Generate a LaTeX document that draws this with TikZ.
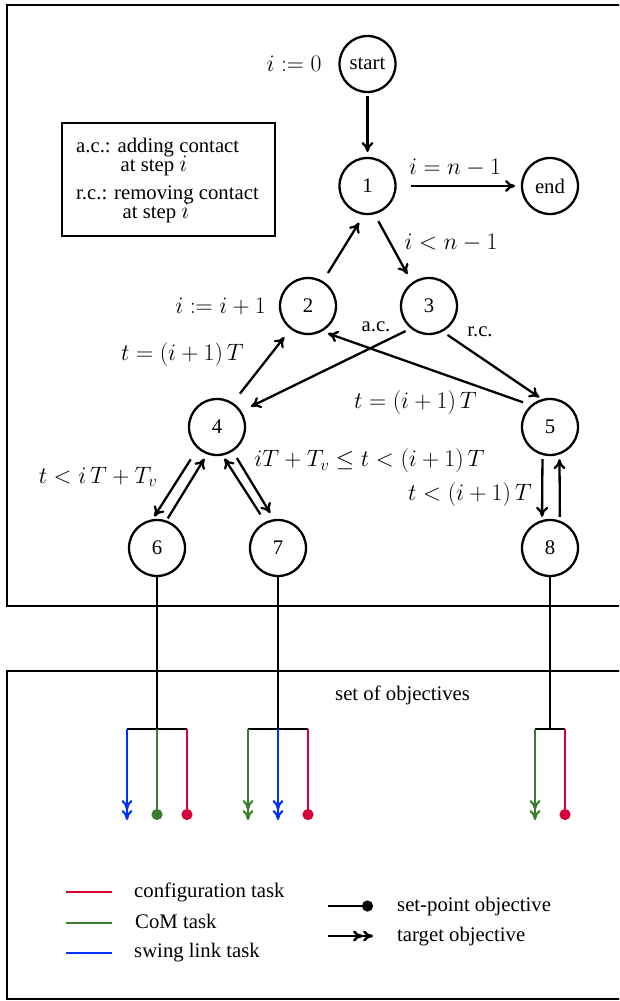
\RequirePackage{fix-cm}
\documentclass[tikz,border=0pt]{standalone}
\usepackage{fontspec}
\setmainfont{Liberation Serif}
\DeclareMathSizes{20.74}{23.7}{16.6}{11.85}
\usetikzlibrary{arrows.meta,calc}
\definecolor{cred}{RGB}{213,0,58}
\definecolor{cgreen}{RGB}{58,125,45}
\definecolor{cblue}{RGB}{0,50,255}
\begin{document}
\begin{tikzpicture}[x=1pt,y=-1pt,
  font=\fontsize{20.74}{25}\selectfont,
  state/.style={circle,draw,line width=2.3pt,minimum size=56pt,inner sep=0pt,outer sep=1pt},
  edge/.style={line width=2.3pt,-{Computer Modern Rightarrow[length=10pt,width=12pt]}},
  lbl/.style={inner sep=0pt},
  txt/.style={inner sep=0pt,anchor=base west},
  frame/.style={line width=2.6pt},
  stem/.style={line width=2.5pt},
  leg/.style={line width=2.2pt},
  target/.style={leg,-{Computer Modern Rightarrow[length=10pt,width=11pt]Computer Modern Rightarrow[length=10pt,width=11pt]}},
  setpoint/.style={leg,-{Circle[length=11pt]}}]
\useasboundingbox (0,0) rectangle (619,1001);
\clip (0,0) rectangle (619,1001);
% frames
\draw[frame] (7,5) rectangle (660,606);
\draw[frame] (7,671) rectangle (660,999);
% legend box
\node[draw,line width=2.3pt,minimum width=213pt,minimum height=113pt,inner sep=0pt] (legbox) at (168.5,179.5) {};
\node[txt] (lac) at (76,152) {\begin{tabular}[t]{@{}l@{}}a.c.: adding contact\\[-6pt]\hspace{44.5pt}at step $i$\end{tabular}};
\node[txt] (lrc) at (76,199) {\begin{tabular}[t]{@{}l@{}}r.c.: removing contact\\[-6pt]\hspace{46.5pt}at step $i$\end{tabular}};
% states
\node[state] (start) at (367.5,64) {start};
\node[state] (n1) at (367.5,186) {1};
\node[state] (end) at (550,186) {end};
\node[state] (n2) at (308,306) {2};
\node[state] (n3) at (429,306) {3};
\node[state] (n4) at (217,427) {4};
\node[state] (n5) at (550,427) {5};
\node[state] (n6) at (157,548) {6};
\node[state] (n7) at (278,548) {7};
\node[state] (n8) at (550,548) {8};
% edges
\draw[edge,shorten <=3pt,shorten >=5pt] (start) -- (n1);
\draw[edge,shorten <=14pt,shorten >=6pt] (n1) -- (end);
\draw[edge,shorten <=9.6pt,shorten >=9.3pt] (n2.59) -- (n1.-97.5);
\draw[edge,shorten <=8pt,shorten >=9.6pt] (n1.-76) -- (n3.126.6);
\draw[edge,shorten <=5.8pt,shorten >=10.7pt] (n3.-129) -- (n4.33.7);
\draw[edge,shorten <=5.9pt,shorten >=3.3pt] (n3.-62.7) -- (n5.106);
\draw[edge,shorten <=8.5pt,shorten >=6.4pt] (n5.131.8) -- (n2.-61.3);
\draw[edge,shorten <=11.5pt,shorten >=10.2pt] (n4.57) -- (n2.-127.7);
\draw[edge,shorten <=12.8pt,shorten >=3.4pt] (n4.-132) -- (n6.99);
\draw[edge,shorten <=2.6pt,shorten >=5.2pt] (n6.71.6) -- (n4.-110.6);
\draw[edge,shorten <=9pt,shorten >=3.6pt] (n7.116.6) -- (n4.-79.4);
\draw[edge,shorten <=7.9pt,shorten >=7.3pt] (n4.-57.2) -- (n7.98);
\draw[edge,shorten <=4.2pt,shorten >=3.3pt] (n5.-105.7) -- (n8.106);
\draw[edge,shorten <=3.9pt,shorten >=4.8pt] (n8.70.5) -- (n5.-71);
% edge labels
\node[lbl] (l0) at (294,64) {$i:=0$};
\node[lbl] (lend) at (455,168) {$i=n-1$};
\node[lbl] (lless) at (451,243) {$i<n-1$};
\node[lbl] (linc) at (220.5,306) {$i:=i+1$};
\node[lbl] (lac3) at (376,327) {a.c.};
\node[lbl] (lrc3) at (480,332) {r.c.};
\node[lbl] (lt1) at (182.5,355) {$t=(i+1)\,T$};
\node[lbl] (lt2) at (415.5,403) {$t=(i+1)\,T$};
\node[lbl] (lt3) at (369.5,461) {$iT+T_v\leq t<(i+1)\,T$};
\node[lbl] (lt4) at (98,477) {$t<i\,T+T_v$};
\node[lbl] (lt5) at (470,495) {$t<(i+1)\,T$};
% objectives
\node[txt] (sobj) at (335,700) {set of objectives};
\coordinate (b6) at (157,729);
\coordinate (b7) at (278,729);
\coordinate (b8) at (550,729);
\draw[stem] (n6) -- (b6);
\draw[stem] (n7) -- (b7);
\draw[stem] (n8) -- (b8);
\coordinate (g1l) at (127,729); \coordinate (g1r) at (187,729);
\coordinate (g2l) at (248,729); \coordinate (g2r) at (308,729);
\coordinate (g3l) at (535,729); \coordinate (g3r) at (565,729);
\draw[stem] (g1l) -- (g1r);
\draw[stem] (g2l) -- (g2r);
\draw[stem] (g3l) -- (g3r);
\coordinate (e1a) at (127,820); \coordinate (e1b) at (157,820); \coordinate (e1c) at (187,820);
\coordinate (e2a) at (248,820); \coordinate (e2b) at (278,820); \coordinate (e2c) at (308,820);
\coordinate (e3a) at (535,820); \coordinate (e3b) at (565,820);
\draw[target,cblue] (g1l) -- (e1a);
\draw[setpoint,cgreen] (b6) -- (e1b);
\draw[setpoint,cred] (g1r) -- (e1c);
\draw[target,cgreen] (g2l) -- (e2a);
\draw[target,cblue] (b7) -- (e2b);
\draw[setpoint,cred] (g2r) -- (e2c);
\draw[target,cgreen] (g3l) -- (e3a);
\draw[setpoint,cred] (g3r) -- (e3b);
% legend
\coordinate (kr1) at (66,892); \coordinate (kr2) at (112,892);
\coordinate (kg1) at (66,923); \coordinate (kg2) at (112,923);
\coordinate (kb1) at (66,953); \coordinate (kb2) at (112,953);
\draw[leg,line width=2.5pt,cred] (kr1) -- (kr2);
\draw[leg,line width=2.5pt,cgreen] (kg1) -- (kg2);
\draw[leg,line width=2.5pt,cblue] (kb1) -- (kb2);
\node[txt] (tconf) at (134,897) {configuration task};
\node[txt] (tcom) at (135,928) {CoM task};
\node[txt] (tswing) at (134,957) {swing link task};
\coordinate (ks1) at (328,906); \coordinate (ks2) at (373,906);
\coordinate (kt1) at (328,936); \coordinate (kt2) at (373,936);
\draw[setpoint,line width=2.5pt] (ks1) -- (ks2);
\draw[target,line width=2.5pt] (kt1) -- (kt2);
\node[txt] (tsp) at (397,911) {set-point objective};
\node[txt] (ttg) at (397,941) {target objective};
\end{tikzpicture}
\end{document}
